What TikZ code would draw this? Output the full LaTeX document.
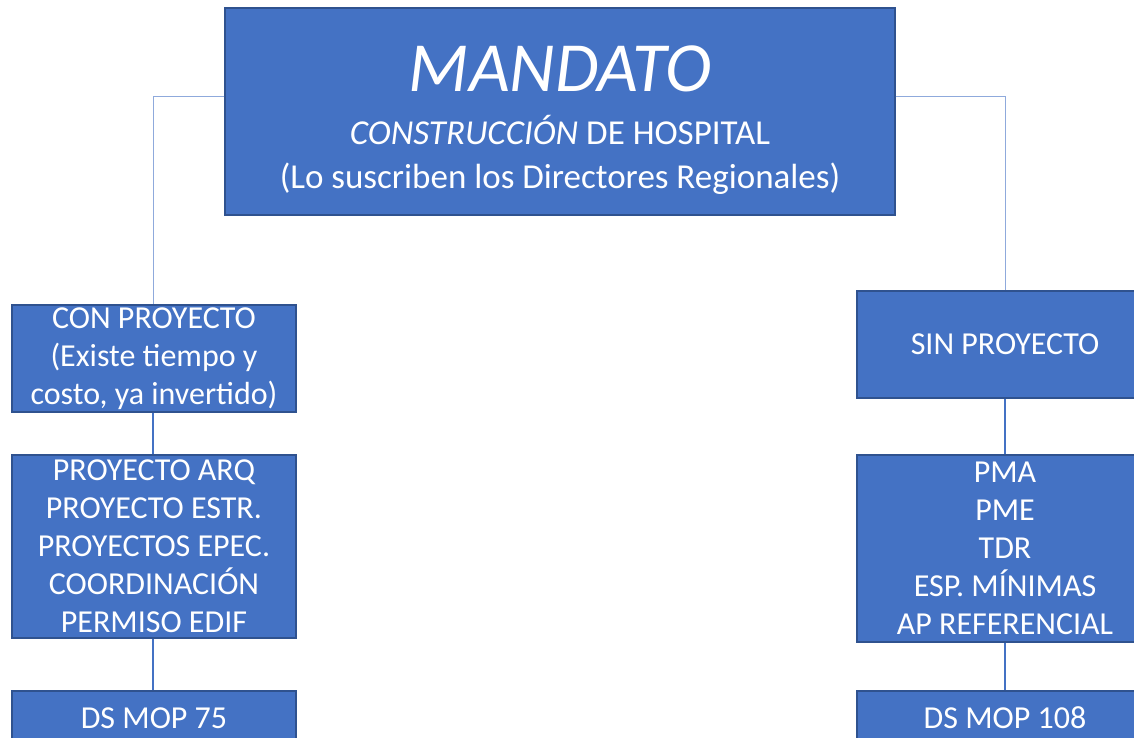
\documentclass[tikz,border=0pt]{standalone}
\usepackage{fontspec}
\setmainfont{Carlito}
\usepackage{tikz}
\definecolor{boxfill}{HTML}{4472C4}
\definecolor{boxline}{HTML}{2F528F}
\definecolor{thinline}{HTML}{8FAADC}

\begin{document}
\begin{tikzpicture}[x=1pt,y=-1pt,
  box/.style={rectangle,draw=boxline,line width=1.3pt,fill=boxfill,text=white,align=center,inner sep=0pt,font=\fontsize{32}{38}\selectfont},
  title/.style={text=white,anchor=base,inner sep=0pt},
  link/.style={draw=boxfill,line width=2pt},
  toplink/.style={draw=thinline,line width=1pt}]
  \useasboundingbox (0,0) rectangle (1134,738);
  \clip (0,0) rectangle (1134,738);
      \coordinate (lx) at (153,97);
      \coordinate (rx) at (1005,97);
      \node [box,minimum width=670,minimum height=207] (mandato) at (560,111.5) {};
      \node [title,font=\fontsize{70.5}{72}\selectfont\itshape] (m1) at (560,92) {MANDATO};
      \node [title,font=\fontsize{35}{40}\selectfont] (m2) at (560,145) {\textit{CONSTRUCCIÓN} DE HOSPITAL};
      \node [title,font=\fontsize{35}{40}\selectfont] (m3) at (560,189) {(Lo suscriben los Directores Regionales)};
      \node [box,minimum width=284,minimum height=107] (con) at (154,358.5) {CON PROYECTO\\(Existe tiempo y\\costo, ya invertido)};
      \node [box,minimum width=284,minimum height=183] (conlista) at (154,546.5) {PROYECTO ARQ\\PROYECTO ESTR.\\PROYECTOS EPEC.\\COORDINACIÓN\\PERMISO EDIF};
      \node [box,minimum width=284,minimum height=54] (ds75) at (154,718) {DS MOP 75};
      \node [box,minimum width=296,minimum height=107] (sin) at (1005,344.5) {SIN PROYECTO};
      \node [box,minimum width=296,minimum height=187] (sinlista) at (1005,548.5) {PMA\\PME\\TDR\\ESP. MÍNIMAS\\AP REFERENCIAL};
      \node [box,minimum width=296,minimum height=54] (ds108) at (1005,718) {DS MOP 108};
%      \foreach \n in {con,sin} ...
      \draw [toplink] (mandato.west |- lx) -- (lx) -- (con.north -| lx);
      \draw [toplink] (mandato.east |- rx) -- (rx) -- (sin.north -| rx);
      \draw [link] (con.south -| lx) -- (conlista.north -| lx);
      \draw [link] (conlista.south -| lx) -- (ds75.north -| lx);
      \draw [link] (sin.south -| rx) -- (sinlista.north -| rx);
      \draw [link] (sinlista.south -| rx) -- (ds108.north -| rx);
\end{tikzpicture}
\end{document}
